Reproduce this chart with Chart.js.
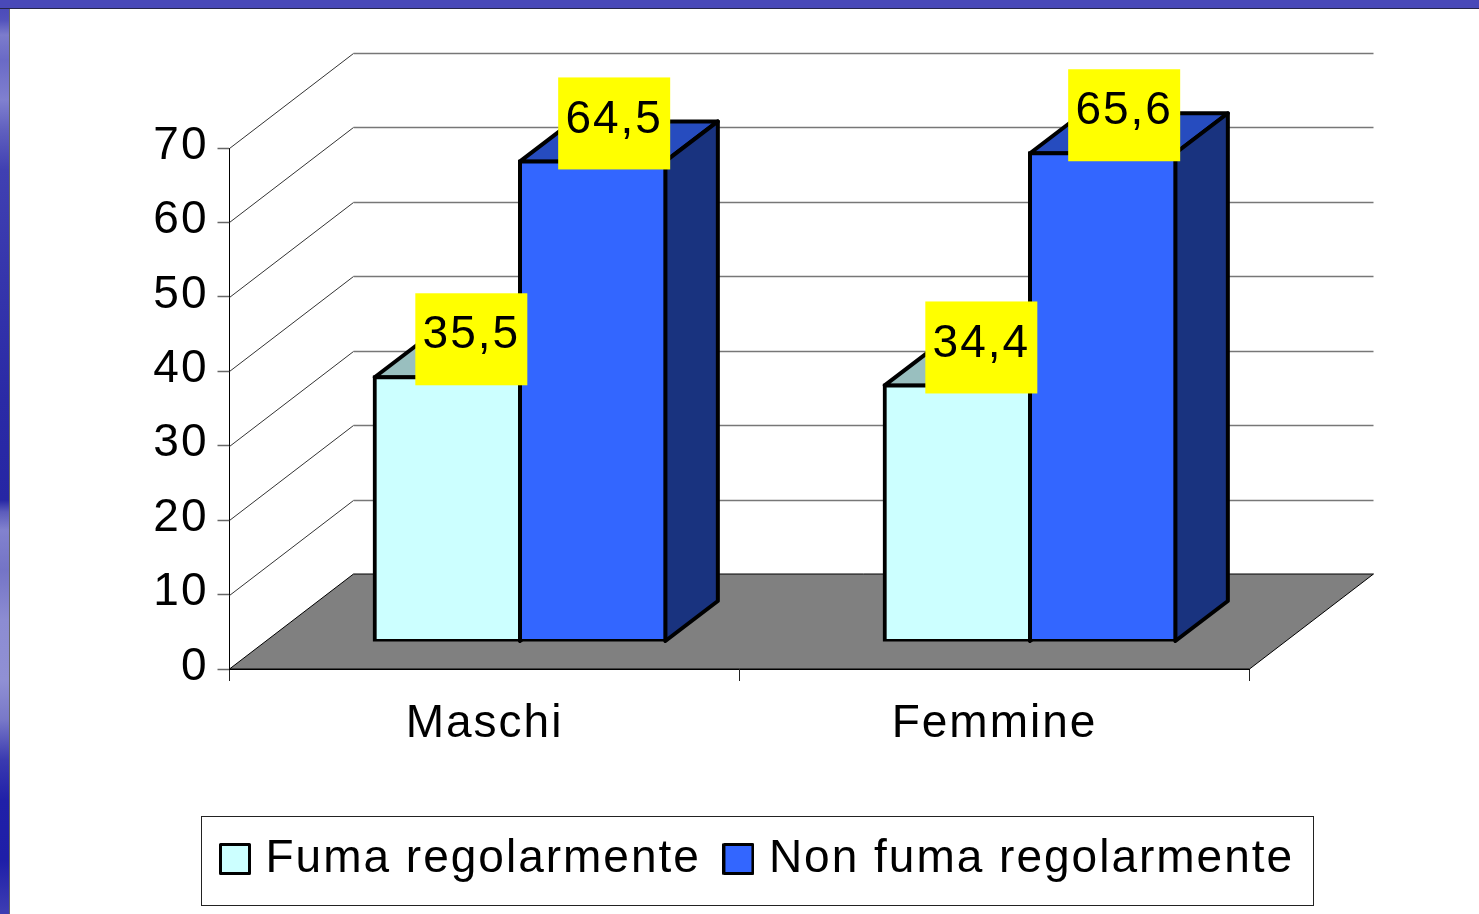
<!DOCTYPE html>
<html><head><meta charset="utf-8">
<style>
html,body{margin:0;padding:0;background:#fff;overflow:hidden}
#wrap{position:relative;width:1479px;height:914px;background:#fff}
#left{position:absolute;left:0;top:0;width:9px;height:914px;border-right:1px solid #666;
background:linear-gradient(to bottom,#4646b6 0,#5252bc 20px,#7c7ccc 35px,#6a6ac6 60px,#8080cf 100px,#6060bf 130px,#4040b2 170px,#3535ac 280px,#2a2aa6 400px,#2626a4 500px,#5c5cbc 512px,#8282ce 530px,#7474c6 570px,#8c8cd2 620px,#9090d4 680px,#7878c8 720px,#3a3ab0 760px,#2020a8 800px,#1e1ea8 860px,#3c3cb2 910px)}
#top{position:absolute;left:0;top:0;width:1479px;height:8px;background:#4949b8;border-bottom:1.5px solid #26264a}
canvas{position:absolute;left:0;top:0}
</style></head><body>
<div id="wrap"><div id="left"></div><div id="top"></div><canvas id="c" width="1479" height="914"></canvas></div>
<script src="https://cdn.jsdelivr.net/npm/chart.js@4"></script>
<script>
const categories = ['Maschi', 'Femmine'];
const smokers = [35.5, 34.4];
const nonSmokers = [64.5, 65.6];
const seriesNames = ['Fuma regolarmente', 'Non fuma regolarmente'];
const yTickStep = 10, yMax = 70;

const FONT = '"Liberation Sans", Arial, sans-serif', FS = 46, SPACING = '2px';
const WALL = {dx: 124, dy: -95};        // depth of the whole 3-D box
const FRONT = {dx: 35.5, dy: -27.5};    // where the bars stand inside the box
const DEPTH = {dx: 52.5, dy: -40};      // depth of a single bar
const LABEL_DX = [24, 21.5];
const FACES = [
  {front:'#CCFFFF', top:'#99BFBF', side:'#667F7F'},
  {front:'#3366FF', top:'#264CBF', side:'#19337F'}
];

function swatch(color){
  const s = document.createElement('canvas'); s.width = 32; s.height = 32;
  const x = s.getContext('2d');
  x.fillStyle = color; x.strokeStyle = '#000'; x.lineWidth = 3; x.lineJoin='round';
  x.beginPath(); x.rect(1.5,1.5,29,29); x.fill(); x.stroke();
  return s;
}

const box3d = {
  id: 'box3d',
  beforeLayout(chart){ chart.ctx.letterSpacing = SPACING; },
  afterLayout(chart){
    const l = chart.legend;
    l.left = 197.5; l.right = 1479; l.width = l.right - l.left; l.top = 806; l.bottom = 905; l.height = 99;
    l.adjustHitBoxes();
    const y = chart.scales.y;
    y.getLabelItems().forEach(i => { i.options.translation[1] -= 2; });
  },
  beforeDraw(chart){ chart.ctx.letterSpacing = SPACING; },
  beforeDatasetsDraw(chart){
    const {ctx, scales:{x, y}} = chart;
    const L = x.left, R = x.right, B = y.getPixelForValue(0);
    ctx.save();
    ctx.lineWidth = 1;
    y.ticks.forEach(t => {
      if (t.value === 0) return;
      const p = Math.round(y.getPixelForValue(t.value)) + .5;
      ctx.strokeStyle = '#333'; ctx.beginPath();
      ctx.moveTo(L, p); ctx.lineTo(L + WALL.dx, p + WALL.dy); ctx.stroke();
      ctx.strokeStyle = '#777'; ctx.lineWidth = 1.5; ctx.beginPath();
      ctx.moveTo(L + WALL.dx, p + WALL.dy); ctx.lineTo(R + WALL.dx, p + WALL.dy); ctx.stroke();
      ctx.lineWidth = 1;
    });
    ctx.fillStyle = '#808080'; ctx.strokeStyle = '#000';
    ctx.beginPath(); ctx.moveTo(L, B); ctx.lineTo(L + WALL.dx, B + WALL.dy);
    ctx.lineTo(R + WALL.dx, B + WALL.dy); ctx.lineTo(R, B); ctx.closePath(); ctx.fill(); ctx.stroke();
    // sides and tops of the bars
    ctx.translate(FRONT.dx, FRONT.dy);
    ctx.lineWidth = 4; ctx.lineJoin = 'round'; ctx.strokeStyle = '#000';
    [0, 1].forEach(d => {
      chart.getDatasetMeta(d).data.forEach(b => {
        const x1 = b.x - b.width/2, x2 = b.x + b.width/2, t = b.y, bt = b.base;
        ctx.fillStyle = FACES[d].top; ctx.beginPath();
        ctx.moveTo(x1, t); ctx.lineTo(x1 + DEPTH.dx, t + DEPTH.dy); ctx.lineTo(x2 + DEPTH.dx, t + DEPTH.dy); ctx.lineTo(x2, t);
        ctx.closePath(); ctx.fill(); ctx.stroke();
        ctx.fillStyle = FACES[d].side; ctx.beginPath();
        ctx.moveTo(x2, t); ctx.lineTo(x2 + DEPTH.dx, t + DEPTH.dy); ctx.lineTo(x2 + DEPTH.dx, bt + DEPTH.dy); ctx.lineTo(x2, bt);
        ctx.closePath(); ctx.fill(); ctx.stroke();
      });
    });
    ctx.restore();
    ctx.save();
    ctx.translate(FRONT.dx, FRONT.dy);
  },
  afterDatasetsDraw(chart){
    const ctx = chart.ctx;
    ctx.restore();
    ctx.save();
    ctx.font = FS + 'px ' + FONT; ctx.textAlign = 'center'; ctx.textBaseline = 'middle';
    [0, 1].forEach(d => {
      const meta = chart.getDatasetMeta(d);
      meta.data.forEach((b, i) => {
        const cx = b.x + FRONT.dx + LABEL_DX[d], cy = b.y + FRONT.dy - 38;
        ctx.fillStyle = '#FFFF00'; ctx.fillRect(cx - 56, cy - 46, 112, 92);
        ctx.fillStyle = '#000';
        ctx.fillText(chart.data.datasets[d].data[i].toFixed(1).replace('.', ','), cx, cy - 3.5);
      });
    });
    ctx.restore();
  },
  afterDraw(chart){
    const ctx = chart.ctx;
    ctx.save(); ctx.strokeStyle = '#222'; ctx.lineWidth = 1;
    ctx.strokeRect(201.5, 816.5, 1112, 89);
    ctx.restore();
  }
};

Chart.defaults.font.family = FONT;
Chart.defaults.font.size = FS;
Chart.defaults.color = '#000';

new Chart(document.getElementById('c'), {
  type: 'bar',
  plugins: [box3d],
  data: {
    labels: categories,
    datasets: [
      {label: seriesNames[0], data: smokers, backgroundColor: FACES[0].front},
      {label: seriesNames[1], data: nonSmokers, backgroundColor: FACES[1].front}
    ]
  },
  options: {
    responsive: false, animation: false, events: [],
    layout: {padding: {left: 0, right: 229.5, top: 148, bottom: 69}},
    datasets: {bar: {barPercentage: 1, categoryPercentage: 0.57, borderColor: '#000', borderWidth: 4, inflateAmount: 2, borderSkipped: false}},
    scales: {
      x: {
        afterFit(s){ s.height = 90; },
        grid: {drawOnChartArea: false, drawTicks: true, tickLength: 12, tickColor: '#222', tickWidth: 1},
        border: {display: true, color: '#000', width: 1},
        ticks: {padding: 16, maxRotation: 0, font: {size: FS}}
      },
      y: {
        min: 0, max: yMax,
        afterFit(s){ s.width = 229.5; },
        grid: {drawOnChartArea: false, drawTicks: true, tickLength: 12, tickColor: '#666', tickWidth: 1.5},
        border: {display: true, color: '#000', width: 1},
        ticks: {stepSize: yTickStep, padding: 9, font: {size: FS}}
      }
    },
    plugins: {
      tooltip: {enabled: false},
      title: {display: false},
      legend: {
        position: 'bottom', align: 'start',
        labels: {
          usePointStyle: true, pointStyleWidth: 15, padding: 30,
          font: {size: FS},
          generateLabels(chart){
            return Chart.defaults.plugins.legend.labels.generateLabels(chart).map((it, i) => {
              it.pointStyle = swatch(FACES[i].front); return it;
            });
          }
        }
      }
    }
  }
});
</script></body></html>
